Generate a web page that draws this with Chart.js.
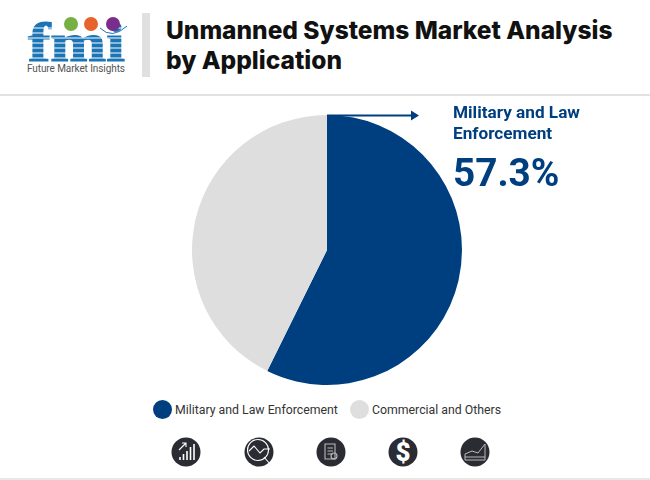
<!DOCTYPE html>
<html>
<head>
<meta charset="utf-8">
<script src="https://cdn.jsdelivr.net/npm/chart.js@4"></script>
<style>
  html, body { margin: 0; padding: 0; background: #fff; }
  body { width: 650px; height: 480px; position: relative; overflow: hidden; font-family: Roboto, sans-serif; }
  .abs { position: absolute; }
  #title { left: 166px; top: 15px; font-family: Inter, sans-serif; font-size: 24.500px; line-height: 30px; font-weight: 800; color: #111; white-space: nowrap; }
  #callout { left: 453px; top: 102px; font-size: 17.200px; line-height: 21px; font-weight: 700; color: #003f7f; white-space: nowrap; }
  #pct { left: 453px; top: 151px; font-size: 38.700px; line-height: 44px; font-weight: 700; color: #003f7f; }
  .leg { top: 403px; font-size: 12.300px; line-height: 15px; color: #333; white-space: nowrap; }
  .dot { top: 400px; width: 19px; height: 19px; border-radius: 50%; }
</style>
</head>
<body>
<!-- logo -->
<svg class="abs" style="left:0;top:0" width="180" height="90" viewBox="0 0 180 90">
  <g fill="#1b75b5" stroke="#1b75b5" stroke-width="1.2" font-family="'Liberation Serif', serif" font-weight="700">
    <text x="28" y="61" font-size="54" textLength="97" lengthAdjust="spacingAndGlyphs">fmi</text>
  </g>
  <g stroke="#fff" stroke-width="1">
    <line x1="24" y1="28" x2="130" y2="28"/><line x1="24" y1="33" x2="130" y2="33"/>
    <line x1="24" y1="38" x2="130" y2="38"/><line x1="24" y1="43" x2="130" y2="43"/>
    <line x1="24" y1="48" x2="130" y2="48"/><line x1="24" y1="53" x2="130" y2="53"/>
    <line x1="24" y1="58" x2="130" y2="58"/>
  </g>
  <circle cx="71" cy="24" r="7" fill="#76b043"/>
  <circle cx="91" cy="24" r="7" fill="#e8622c"/>
  <circle cx="113" cy="24" r="7" fill="#7b2d8b"/>
  <path d="M100 28 Q112 40 127 26" fill="none" stroke="#1b75b5" stroke-width="1"/>
  <text x="27" y="72" font-family="Roboto, sans-serif" font-size="10" fill="#555" textLength="98">Future Market Insights</text>
</svg>
<!-- header rules -->
<div class="abs" style="left:142px;top:13px;width:8px;height:64px;background:#e0e0e0"></div>
<div class="abs" style="left:0;top:94px;width:650px;height:2px;background:#e2e2e2"></div>
<div class="abs" style="left:0;top:478px;width:650px;height:2px;background:#e8e8e8"></div>

<div class="abs" id="title">Unmanned Systems Market Analysis<br>by Application</div>

<div class="abs" style="left:192px;top:115px;width:270px;height:270px">
  <canvas id="myChart" width="270" height="270"></canvas>
</div>

<!-- callout arrow -->
<svg class="abs" style="left:320px;top:105px" width="110" height="20">
  <line x1="7" y1="10.5" x2="95" y2="10.5" stroke="#003f7f" stroke-width="2"/>
  <path d="M91 5.5 L99 10.5 L91 15.5 Z" fill="#003f7f"/>
</svg>
<div class="abs" id="callout">Military and Law<br>Enforcement</div>
<div class="abs" id="pct">57.3%</div>

<!-- legend -->
<div class="abs dot" style="left:153px;background:#003f7f"></div>
<div class="abs leg" style="left:175px">Military and Law Enforcement</div>
<div class="abs dot" style="left:350px;background:#dedede"></div>
<div class="abs leg" style="left:372px">Commercial and Others</div>

<!-- icons -->
<svg class="abs" style="left:0;top:430px" width="650" height="40" viewBox="0 0 650 40" fill="none" stroke="#fff" stroke-width="1.1">
  <g fill="#2b2b33" stroke="none">
    <circle cx="186" cy="22" r="14.5"/><circle cx="259" cy="22" r="14.5"/><circle cx="331" cy="22" r="14.5"/>
    <circle cx="403" cy="22" r="14.5"/><circle cx="475" cy="22" r="14.5"/>
  </g>
  <path d="M179 20 L186 13 M182 13 H186 V17"/>
  <path d="M180 30 V27 M183.500 30 V24 M187 30 V21 M190.500 30 V17 M194 30 V14" stroke-width="1.6"/>
  <circle cx="258" cy="20" r="10.500"/>
  <path d="M249 21 L254 16 L260 23 L264 19 H270 M264 27 L270 34"/>
  <path d="M325 14 H335 V29 H325 Z M327.500 18 H333 M327.500 21 H333 M327.500 24 H333" stroke="#bbb"/>
  <circle cx="334" cy="26" r="3" stroke="#bbb"/>
  <text x="403" y="31" text-anchor="middle" font-family="Roboto, sans-serif" font-weight="900" font-size="26" fill="#fff" stroke="none">$</text>
  <path d="M465 30 V24 L472 21 L478 23 L485 14 V30 Z" stroke="#bbb" stroke-width="1"/>
  <path d="M465 27 H485" stroke="#bbb" stroke-width="1"/>
</svg>

<script>
const labels = ['Military and Law Enforcement', 'Commercial and Others'];
const values = [57.3, 42.7];
const colors = ['#003f7f', '#dedede'];

const ctx = document.getElementById('myChart').getContext('2d');
new Chart(ctx, {
  type: 'pie',
  data: {
    labels: labels,
    datasets: [{ data: values, backgroundColor: colors, borderWidth: 0 }]
  },
  options: {
    responsive: false,
    animation: false,
    plugins: { legend: { display: false }, tooltip: { enabled: false } }
  }
});
</script>
</body>
</html>
